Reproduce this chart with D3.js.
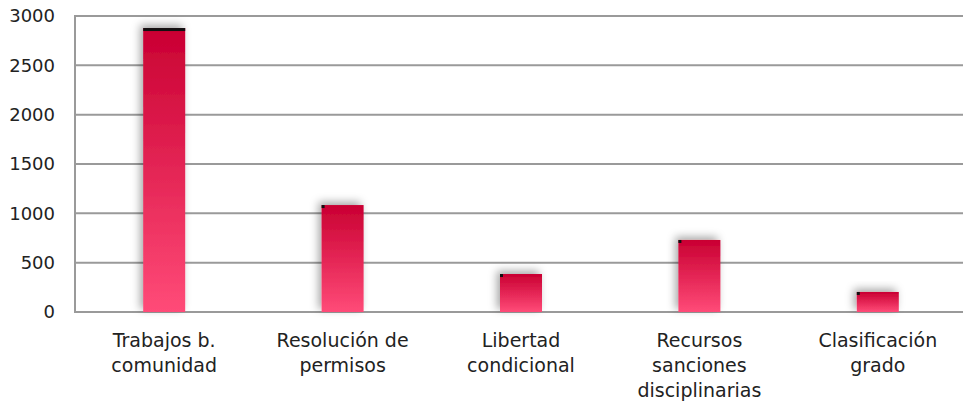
<!DOCTYPE html>
<html><head><meta charset="utf-8">
<script src="https://cdn.jsdelivr.net/npm/d3@7"></script>
<style>body{margin:0;background:#fff}svg{display:block}</style>
</head><body>
<svg id="c" width="963" height="406"></svg>
<script>
const categories = [["Trabajos b.","comunidad"],["Resolución de","permisos"],["Libertad","condicional"],["Recursos","sanciones","disciplinarias"],["Clasificación","grado"]];
const values = [2878, 1084, 385, 730, 203];
const yTicks = [0, 500, 1000, 1500, 2000, 2500, 3000];

const svg = d3.select("#c");
const m = {l: 75, t: 16, b: 94};
const W = 963, H = 406;
const x = d3.scaleBand().domain(d3.range(values.length)).range([m.l, 967]).paddingInner(0).paddingOuter(0);
const y = d3.scaleLinear().domain([0, 3000]).range([H - m.b, m.t]);
const font = "'DejaVu Sans', sans-serif";

const defs = svg.append("defs");
const g = defs.append("linearGradient").attr("id","bg").attr("x1",0).attr("y1",0).attr("x2",0).attr("y2",1);
g.append("stop").attr("offset","0%").attr("stop-color","#c90032");
g.append("stop").attr("offset","100%").attr("stop-color","#ff4b78");
const f = defs.append("filter").attr("id","sh").attr("x","-50%").attr("y","-50%").attr("width","200%").attr("height","200%");
f.append("feDropShadow").attr("dx",-3).attr("dy",-3).attr("stdDeviation",4).attr("flood-color","#000").attr("flood-opacity",0.35);

// gridlines
svg.append("g").selectAll("line").data(yTicks).join("line")
  .attr("x1", m.l).attr("x2", W).attr("y1", d => y(d)).attr("y2", d => y(d))
  .attr("stroke", "#9a9a9a").attr("stroke-width", 2);
svg.append("line").attr("x1", m.l).attr("x2", m.l).attr("y1", y(3000)-1).attr("y2", y(0)+1)
  .attr("stroke", "#9a9a9a").attr("stroke-width", 2);

// y labels
svg.append("g").selectAll("text").data(yTicks).join("text")
  .attr("x", 55).attr("y", d => y(d)).attr("dy", "0.35em").attr("text-anchor", "end")
  .attr("font-family", font).attr("font-size", 18).attr("fill", "#222").text(d => d);

const bw = 42;
const bars = svg.append("g");
bars.selectAll("rect.bar").data(values).join("rect").attr("class","bar")
  .attr("x", (d,i) => x(i) + x.bandwidth()/2 - bw/2).attr("width", bw)
  .attr("y", d => y(d)).attr("height", d => y(0) - y(d))
  .attr("fill", "url(#bg)").attr("filter", "url(#sh)");
bars.selectAll("rect.cap").data(values).join("rect").attr("class","cap")
  .attr("x", (d,i) => x(i) + x.bandwidth()/2 - bw/2).attr("width", (d,i) => i === 0 ? bw : 3)
  .attr("y", d => y(d)).attr("height", 3)
  .attr("fill", "#111");

// category labels
const cl = svg.append("g").selectAll("text").data(categories).join("text")
  .attr("x", (d,i) => x(i) + x.bandwidth()/2).attr("y", 347)
  .attr("text-anchor", "middle").attr("font-family", font).attr("font-size", 19).attr("fill", "#222");
cl.selectAll("tspan").data(d => d).join("tspan")
  .attr("x", function(){ return this.parentNode.getAttribute("x"); })
  .attr("dy", (d,i) => i === 0 ? 0 : 25).text(d => d);
</script>
</body></html>
